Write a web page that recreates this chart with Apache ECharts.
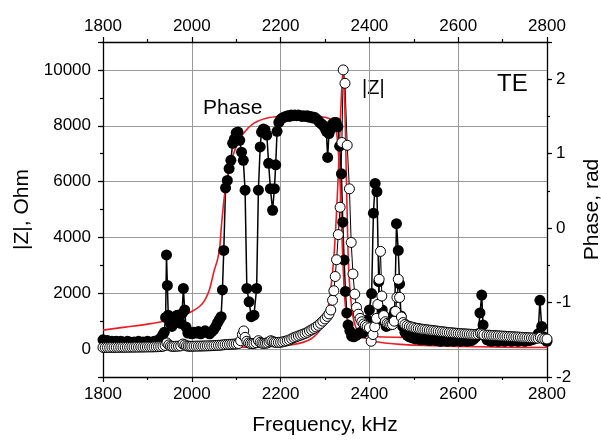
<!DOCTYPE html>
<html>
<head>
<meta charset="utf-8">
<script src="https://cdn.jsdelivr.net/npm/echarts@6/dist/echarts.min.js"></script>
<style>html,body{margin:0;padding:0;background:#fff}#c{width:601px;height:440px}</style>
</head>
<body>
<div id="c"></div>
<script>
// X axis tick values (kHz)
const freqTicks = [1800, 2000, 2200, 2400, 2600, 2800];
// Left axis |Z| labels (Ohm), right axis phase labels (rad)
const zTickLabels = [0, 2000, 4000, 6000, 8000, 10000];
const phaseTickLabels = [-2, -1, 0, 1, 2];

// Measured phase (filled circles), [frequency kHz, phase rad]
const phaseMeasured = [
[1800,-1.50],[1805,-1.52],[1810,-1.51],[1815,-1.53],[1820,-1.52],[1825,-1.53],[1830,-1.52],[1835,-1.54],[1840,-1.52],[1845,-1.53],
[1850,-1.54],[1855,-1.52],[1860,-1.53],[1865,-1.54],[1870,-1.53],[1875,-1.54],[1880,-1.52],[1885,-1.54],[1890,-1.53],[1895,-1.54],
[1900,-1.52],[1905,-1.53],[1910,-1.54],[1915,-1.52],[1920,-1.53],[1925,-1.50],[1930,-1.48],[1934,-1.44],[1938,-1.40],[1941,-1.20],
[1943,-0.36],[1945,-0.77],[1947,-1.17],[1951,-1.27],[1955,-1.32],[1959,-1.28],[1963,-1.22],[1967,-1.17],[1971,-1.22],[1975,-1.28],
[1978,-1.15],[1981,-0.81],[1984,-1.10],[1987,-1.33],[1991,-1.41],[1995,-1.40],[2000,-1.42],[2005,-1.40],[2010,-1.41],[2015,-1.39],
[2020,-1.42],[2025,-1.40],[2030,-1.38],[2035,-1.40],[2040,-1.42],[2045,-1.39],[2050,-1.36],[2054,-1.32],[2058,-1.27],[2062,-1.23],
[2066,-1.19],[2069,-0.83],[2072,-0.30],[2076,0.54],[2080,0.64],[2084,0.80],[2088,0.91],[2092,1.14],[2096,1.20],[2100,1.28],
[2104,1.29],[2108,1.18],[2112,1.02],[2116,0.91],[2120,0.51],[2124,-0.81],[2129,-0.99],[2134,-1.19],[2140,-1.17],[2146,-0.81],
[2150,0.51],[2154,1.09],[2157,1.29],[2161,1.33],[2165,1.32],[2169,1.25],[2173,0.87],[2177,0.53],[2182,0.24],[2186,0.53],
[2189,0.85],[2192,1.30],[2196,1.42],[2200,1.46],[2204,1.48],[2208,1.49],[2212,1.50],[2216,1.51],[2220,1.50],[2224,1.52],
[2228,1.51],[2232,1.52],[2236,1.51],[2240,1.52],[2244,1.51],[2248,1.50],[2252,1.51],[2256,1.50],[2260,1.51],[2264,1.49],
[2268,1.50],[2272,1.48],[2276,1.49],[2280,1.47],[2284,1.45],[2288,1.42],[2292,1.40],[2296,1.38],[2300,1.34],[2303,1.30],
[2306,0.95],[2309,1.27],[2313,1.33],[2317,1.40],[2321,1.42],[2325,1.42],[2329,1.36],[2333,1.10],[2337,0.73],[2340,0.08],
[2343,-0.43],[2346,-0.85],[2349,-1.14],[2352,-1.30],[2356,-1.38],[2360,-1.45],[2365,-1.46],[2370,-1.44],[2375,-1.42],[2380,-1.40],
[2385,-1.41],[2390,-1.35],[2395,-1.23],[2400,-1.10],[2405,-0.88],[2409,0.20],[2413,0.60],[2417,0.49],[2421,-0.72],[2425,-1.23],
[2429,-1.10],[2433,-1.25],[2438,-1.32],[2443,-1.30],[2448,-1.26],[2453,-1.18],[2457,-1.12],[2461,0.06],[2465,-0.30],[2468,-0.75],
[2471,-1.18],[2475,-1.32],[2480,-1.40],[2485,-1.44],[2490,-1.46],[2495,-1.47],[2500,-1.48],[2505,-1.49],[2510,-1.48],[2515,-1.50],
[2520,-1.49],[2525,-1.50],[2530,-1.49],[2535,-1.51],[2540,-1.50],[2545,-1.49],[2550,-1.51],[2555,-1.50],[2560,-1.52],[2565,-1.50],
[2570,-1.51],[2575,-1.52],[2580,-1.50],[2585,-1.51],[2590,-1.52],[2595,-1.50],[2600,-1.51],[2605,-1.52],[2610,-1.50],[2615,-1.51],
[2620,-1.52],[2625,-1.50],[2630,-1.51],[2635,-1.49],[2640,-1.46],[2645,-1.42],[2649,-1.14],[2653,-0.90],[2656,-1.30],[2660,-1.45],
[2665,-1.50],[2670,-1.51],[2675,-1.52],[2680,-1.50],[2685,-1.51],[2690,-1.52],[2695,-1.50],[2700,-1.51],[2705,-1.52],[2710,-1.50],
[2715,-1.51],[2720,-1.52],[2725,-1.50],[2730,-1.51],[2735,-1.52],[2740,-1.50],[2745,-1.51],[2750,-1.52],[2755,-1.50],[2760,-1.51],
[2765,-1.50],[2770,-1.49],[2775,-1.47],[2780,-1.42],[2784,-0.97],[2788,-1.32],[2792,-1.46],[2796,-1.50],[2800,-1.52]
];

// Measured |Z| (open circles), [frequency kHz, Ohm]
const zMeasured = [
[1800,60],[1805,55],[1810,60],[1815,58],[1820,62],[1825,60],[1830,64],[1835,62],[1840,65],[1845,66],
[1850,64],[1855,68],[1860,66],[1865,70],[1870,68],[1875,72],[1880,70],[1885,74],[1890,72],[1895,76],
[1900,75],[1905,78],[1910,76],[1915,80],[1920,82],[1925,85],[1930,90],[1935,100],[1940,130],[1944,220],
[1948,150],[1952,110],[1956,100],[1960,98],[1965,102],[1970,105],[1975,115],[1980,180],[1984,150],[1988,115],
[1992,105],[1996,102],[2000,100],[2005,104],[2010,106],[2015,105],[2020,108],[2025,110],[2030,112],[2035,115],
[2040,118],[2045,120],[2050,125],[2055,130],[2060,135],[2065,140],[2070,150],[2075,160],[2080,165],[2085,170],
[2090,175],[2095,180],[2100,185],[2105,200],[2110,300],[2114,520],[2117,650],[2120,420],[2124,280],[2128,220],
[2132,200],[2136,195],[2140,200],[2145,230],[2150,300],[2154,240],[2158,210],[2162,205],[2166,210],[2170,220],
[2174,260],[2178,300],[2182,270],[2186,250],[2190,240],[2195,240],[2200,245],[2205,260],[2210,280],[2215,300],
[2220,330],[2225,370],[2230,410],[2235,440],[2240,470],[2245,500],[2250,530],[2255,560],[2260,600],[2265,650],
[2270,690],[2275,740],[2280,790],[2285,850],[2290,920],[2295,1000],[2300,1080],[2305,1170],[2309,1260],[2313,1400],
[2317,1750],[2320,2090],[2323,2600],[2326,3200],[2330,4100],[2334,5080],[2338,7400],[2341,10000],[2345,9520],[2350,7300],
[2355,5740],[2359,3820],[2363,2690],[2367,1970],[2371,1490],[2375,1250],[2379,1100],[2383,980],[2387,900],[2391,850],
[2395,800],[2400,760],[2404,280],[2408,520],[2412,800],[2416,1100],[2419,1600],[2422,2500],[2425,3500],[2428,1900],
[2432,1200],[2436,980],[2440,920],[2444,890],[2448,870],[2452,880],[2456,1000],[2459,1350],[2462,1850],[2465,2500],
[2468,1850],[2472,1150],[2476,950],[2480,880],[2485,840],[2490,810],[2495,790],[2500,770],[2505,750],[2510,740],
[2515,720],[2520,710],[2525,700],[2530,690],[2535,680],[2540,670],[2545,660],[2550,650],[2555,640],[2560,630],
[2565,620],[2570,610],[2575,600],[2580,590],[2585,585],[2590,575],[2595,570],[2600,560],[2605,555],[2610,550],
[2615,545],[2620,540],[2625,535],[2630,530],[2635,525],[2640,520],[2645,530],[2650,560],[2654,540],[2658,510],
[2665,500],[2670,495],[2675,490],[2680,485],[2685,480],[2690,475],[2695,470],[2700,465],[2705,460],[2710,455],
[2715,450],[2720,445],[2725,440],[2730,435],[2735,430],[2740,425],[2745,420],[2750,415],[2755,410],[2760,405],
[2765,400],[2770,395],[2775,390],[2780,390],[2785,420],[2790,380],[2795,370],[2800,360]
];

// Fitted phase (red), [frequency kHz, phase rad]
const phaseFit = [
[1800,-1.37],[1850,-1.33],[1900,-1.29],[1944,-1.24],[1980,-1.17],[2000,-1.12],[2018,-1.05],[2030,-0.96],[2040,-0.82],
[2050,-0.58],[2058,-0.42],[2063,-0.25],[2067,0.05],[2071,0.30],[2075,0.50],[2080,0.68],[2086,0.83],[2093,0.98],[2100,1.09],
[2116,1.27],[2140,1.41],[2170,1.48],[2200,1.50],[2250,1.51],[2300,1.49],[2315,1.45],[2322,1.38],[2327,1.24],[2331,0.95],
[2334,0.60],[2337,0.10],[2340,-0.40],[2343,-0.80],[2346,-1.05],[2350,-1.22],[2356,-1.33],[2365,-1.40],[2380,-1.44],
[2420,-1.46],[2500,-1.47],[2600,-1.48],[2700,-1.48],[2800,-1.49]
];

// Fitted |Z| (red), [frequency kHz, Ohm]
const zFit = [
[1800,20],[1900,28],[2000,40],[2100,60],[2150,80],[2200,110],[2230,170],[2250,240],[2270,380],[2285,600],
[2295,850],[2303,1200],[2310,1750],[2316,2600],[2320,3300],[2325,4600],[2330,6300],[2334,7950],[2337,9100],[2340,9850],
[2342,9700],[2344,9000],[2346,7800],[2348,6200],[2350,4800],[2352,3400],[2355,2400],[2358,1800],[2362,1250],[2366,950],
[2372,680],[2380,500],[2395,360],[2410,280],[2440,210],[2470,170],[2520,130],[2600,95],[2700,70],[2800,55]
];

const FONT = 'Liberation Sans, Arial, sans-serif';
const chart = echarts.init(document.getElementById('c'), null, {renderer: 'canvas'});

const axisLineStyle = {color: '#000', width: 1.3};
const plainNum = v => String(v);
const xCommon = {
  type: 'value', min: freqTicks[0], max: freqTicks[freqTicks.length - 1], interval: freqTicks[1] - freqTicks[0],
  axisLine: {show: true, onZero: false, lineStyle: axisLineStyle},
  axisTick: {show: true, length: 5, lineStyle: {color: '#000', width: 1.2}},
  minorTick: {show: true, splitNumber: 2, length: 3, lineStyle: {color: '#000', width: 1.2}},
};

chart.setOption({
  animation: false,
  grid: {left: 103, right: 54, top: 42, bottom: 63, outerBoundsMode: 'none'},
  xAxis: [
    Object.assign({}, xCommon, {
      position: 'bottom',
      axisLabel: {fontSize: 17, color: '#000', fontFamily: FONT, margin: 9, formatter: plainNum},
      splitLine: {show: true, lineStyle: {color: '#9a9a9a', width: 1}},
      name: 'Frequency, kHz', nameLocation: 'middle', nameGap: 38,
      nameTextStyle: {fontSize: 21, color: '#000', fontFamily: FONT}
    }),
    Object.assign({}, xCommon, {
      position: 'top',
      axisLabel: {fontSize: 17, color: '#000', fontFamily: FONT, margin: 7, formatter: plainNum},
      splitLine: {show: false}
    })
  ],
  yAxis: [
    {
      type: 'value', position: 'left', min: -1000, max: 11000, splitNumber: 6,
      axisLine: {show: true, onZero: false, lineStyle: axisLineStyle},
      axisTick: {show: true, length: 5, lineStyle: {color: '#000', width: 1.2}},
      axisLabel: {fontSize: 17, color: '#000', fontFamily: FONT, margin: 12,
        formatter: v => (zTickLabels.indexOf(v) >= 0 ? String(v) : '')},
      splitLine: {show: true, lineStyle: {color: '#9a9a9a', width: 1}},
      name: '|Z|, Ohm', nameLocation: 'middle', nameGap: 70, nameRotate: 90,
      nameTextStyle: {fontSize: 21, color: '#000', fontFamily: FONT}
    },
    {
      type: 'value', position: 'right', min: -2, max: 2.5, interval: 1,
      axisLine: {show: true, onZero: false, lineStyle: axisLineStyle},
      axisTick: {show: true, length: 5, lineStyle: {color: '#000', width: 1.2}},
      axisLabel: {fontSize: 17, color: '#000', fontFamily: FONT, margin: 9,
        formatter: v => (phaseTickLabels.indexOf(v) >= 0 ? String(v) : '')},
      splitLine: {show: false},
      name: 'Phase, rad', nameLocation: 'middle', nameGap: 34, nameRotate: 90,
      nameTextStyle: {fontSize: 21, color: '#000', fontFamily: FONT}
    },
    {
      type: 'value', position: 'left', min: -1000, max: 11000, interval: 1000,
      axisLine: {show: false}, axisLabel: {show: false}, splitLine: {show: false},
      axisTick: {show: true, length: 3, lineStyle: {color: '#000', width: 1.2}}
    },
    {
      type: 'value', position: 'right', min: -2, max: 2.5, interval: 0.5,
      axisLine: {show: false}, axisLabel: {show: false}, splitLine: {show: false},
      axisTick: {show: true, length: 3, lineStyle: {color: '#000', width: 1.2}}
    }
  ],
  graphic: [
    {type: 'text', left: 203, top: 98, style: {text: 'Phase', font: '21px ' + FONT, fill: '#000'}},
    {type: 'text', left: 362, top: 78, style: {text: '|Z|', font: '20px ' + FONT, fill: '#000'}},
    {type: 'text', left: 497, top: 72, style: {text: 'TE', font: '24px ' + FONT, fill: '#000'}}
  ],
  series: [
    {
      type: 'line', xAxisIndex: 0, yAxisIndex: 1, data: phaseMeasured, silent: true,
      symbol: 'circle', symbolSize: 11, showSymbol: true,
      itemStyle: {color: '#000'}, lineStyle: {color: '#000', width: 1.5},
      emphasis: {disabled: true}, clip: true
    },
    {
      type: 'line', xAxisIndex: 0, yAxisIndex: 0, data: zMeasured, silent: true,
      symbol: 'circle', symbolSize: 10, showSymbol: true,
      itemStyle: {color: '#fff', borderColor: '#000', borderWidth: 1},
      lineStyle: {color: '#000', width: 1},
      emphasis: {disabled: true}, clip: true
    },
    {
      type: 'line', xAxisIndex: 0, yAxisIndex: 1, data: phaseFit, silent: true,
      symbol: 'none', smooth: 0.3, lineStyle: {color: '#ec1c24', width: 1.6},
      emphasis: {disabled: true}
    },
    {
      type: 'line', xAxisIndex: 0, yAxisIndex: 0, data: zFit, silent: true,
      symbol: 'none', smooth: 0.3, lineStyle: {color: '#ec1c24', width: 1.6},
      emphasis: {disabled: true}
    }
  ]
});
</script>
</body>
</html>
